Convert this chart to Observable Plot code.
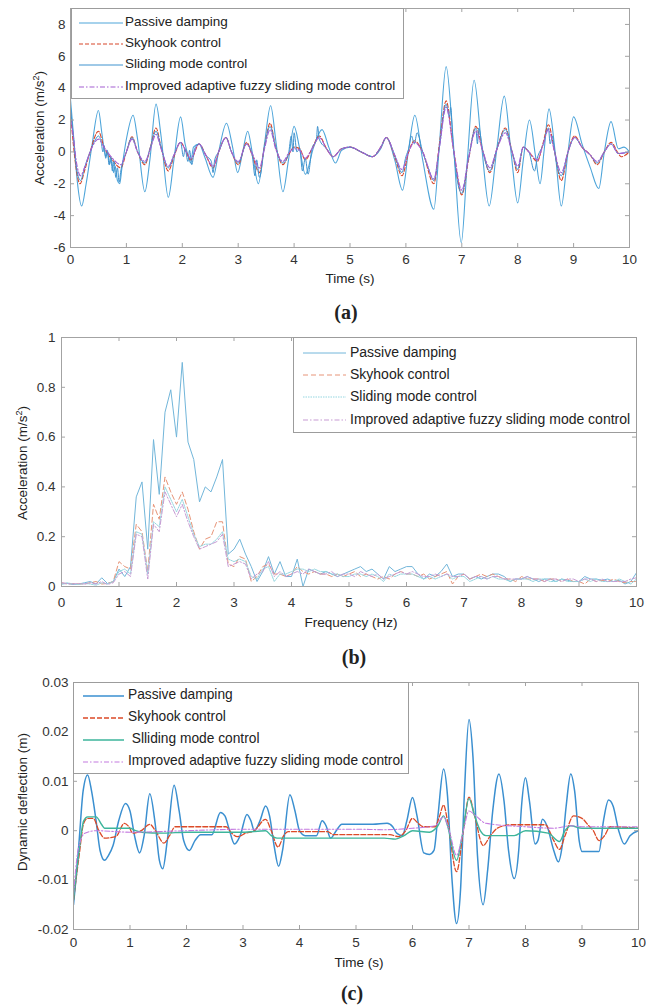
<!DOCTYPE html>
<html>
<head>
<meta charset="utf-8">
<script src="https://cdn.jsdelivr.net/npm/d3@7"></script>
<script src="https://cdn.jsdelivr.net/npm/@observablehq/plot@0.6"></script>
<style>
  body { margin: 0; background: #fff; }
  #page { position: relative; width: 646px; height: 1006px; overflow: hidden;
          font-family: "Liberation Sans", Arial, sans-serif; color: #222; }
  .panel { position: absolute; left: 0; }
  .legend { position: absolute; background: #fff; border: 1px solid #9c9c9c; box-sizing: border-box; }
  .legend .row { position: absolute; left: 0; height: 20px; white-space: pre; font-size: 12.5px; }
  .legend svg { position: absolute; top: 0; }
  .legend span { position: absolute; top: 1px; white-space: pre; }
  .xlab { position: absolute; font-size: 13.5px; transform: translate(-50%, -50%); white-space: nowrap; }
  .ylab { position: absolute; font-size: 13.5px; transform: translate(-50%, -50%) rotate(-90deg); white-space: nowrap; }
  .tag { position: absolute; font-family: "Liberation Serif", "Times New Roman", serif; font-weight: bold;
         font-size: 20px; transform: translate(-50%, -50%); }
</style>
</head>
<body>
<div id="page"></div>
<script>
// ---------- (a) body acceleration in the time domain: [time s, acceleration m/s^2] ----------
const passiveAccel = [[0,3.3],[0.05,1.2],[0.12,-1.8],[0.2,-3.4],[0.28,-2.0],[0.38,0.3],[0.5,2.6],[0.56,1.2],[0.6,0.2],[0.63,-0.3],[0.66,0.1],[0.7,-0.8],[0.73,-0.4],[0.77,-1.3],[0.8,-0.9],[0.84,-1.8],[0.88,-2.0],[0.92,-1.0],[1.0,0.8],[1.12,2.3],[1.2,0.8],[1.33,-2.5],[1.42,-0.5],[1.53,3.0],[1.62,1.0],[1.75,-2.85],[1.85,-0.5],[1.97,2.2],[2.05,0.5],[2.1,-0.2],[2.15,-0.7],[2.2,0.3],[2.3,0.5],[2.4,-0.3],[2.55,-1.6],[2.65,0.0],[2.79,1.8],[2.9,0.3],[2.99,-1.3],[3.08,0.0],[3.17,1.3],[3.25,0.0],[3.36,-2.0],[3.47,0.5],[3.58,2.9],[3.68,0.5],[3.8,-2.5],[3.9,-0.5],[4.0,1.6],[4.1,0.2],[4.2,-1.4],[4.35,0.3],[4.5,1.4],[4.62,0.3],[4.74,-0.7],[4.85,0.1],[5.0,0.3],[5.2,0.0],[5.4,-0.3],[5.55,0.2],[5.65,0.9],[5.8,-0.5],[5.94,-2.4],[6.05,0.2],[6.16,2.3],[6.3,-0.5],[6.5,-3.6],[6.6,0.5],[6.72,5.35],[6.85,0.5],[6.99,-5.7],[7.1,-0.5],[7.22,4.5],[7.35,0.5],[7.49,-3.4],[7.62,0.0],[7.76,3.5],[7.88,0.0],[8.0,-3.2],[8.1,-0.5],[8.21,2.0],[8.32,-0.3],[8.4,-2.0],[8.47,0.0],[8.56,2.7],[8.67,0.0],[8.78,-3.4],[8.9,0.0],[9.0,2.2],[9.15,0.5],[9.3,-1.0],[9.45,-2.3],[9.55,0.0],[9.67,1.9],[9.8,0.2],[9.9,0.3],[10,0.0]];
const skyhookAccel = [[0,2.5],[0.05,0.5],[0.1,-1.0],[0.17,-2.0],[0.25,-1.2],[0.35,0.0],[0.5,1.3],[0.6,0.3],[0.75,-0.5],[0.9,-1.0],[1.0,0.0],[1.1,0.95],[1.2,0.0],[1.33,-0.8],[1.43,0.3],[1.53,1.5],[1.62,0.3],[1.75,-1.2],[1.85,-0.3],[1.97,0.6],[2.07,0.0],[2.15,-0.5],[2.3,0.5],[2.42,-0.2],[2.55,-1.0],[2.65,0.0],[2.78,0.9],[2.88,0.0],[3.0,-0.8],[3.15,0.6],[3.25,-0.2],[3.38,-1.3],[3.47,0.3],[3.57,1.8],[3.67,0.3],[3.8,-0.8],[3.9,-0.2],[4.0,0.3],[4.1,0.2],[4.2,-0.5],[4.32,0.2],[4.45,1.0],[4.58,0.2],[4.7,-0.3],[4.85,0.2],[5.0,0.3],[5.2,0.0],[5.4,-0.3],[5.55,0.3],[5.65,0.9],[5.8,-0.3],[5.93,-1.5],[6.05,0.0],[6.15,0.7],[6.3,0.0],[6.5,-2.0],[6.6,0.5],[6.72,3.2],[6.85,0.2],[7.0,-2.7],[7.12,-0.5],[7.25,1.6],[7.38,0.0],[7.5,-1.3],[7.63,0.2],[7.78,1.5],[7.9,0.0],[8.0,-1.3],[8.1,0.3],[8.2,0.0],[8.35,-0.6],[8.45,0.5],[8.55,1.7],[8.66,0.0],[8.78,-1.8],[8.9,0.0],[9.02,1.0],[9.15,0.3],[9.3,-0.2],[9.42,-0.8],[9.55,0.0],[9.67,0.6],[9.8,-0.1],[9.85,-0.3],[10,0.0]];
const slidingAccel = [[0,2.8],[0.05,1.0],[0.1,-0.8],[0.18,-1.8],[0.25,-1.0],[0.35,0.0],[0.45,0.8],[0.5,1.0],[0.55,0.6],[0.58,0.0],[0.6,0.4],[0.63,-0.4],[0.66,0.0],[0.69,-0.8],[0.72,-0.3],[0.75,-1.2],[0.78,-0.6],[0.81,-1.6],[0.84,-1.0],[0.87,-1.9],[0.9,-1.2],[1.0,0.0],[1.1,0.9],[1.2,0.0],[1.33,-0.7],[1.43,0.3],[1.53,1.3],[1.62,0.3],[1.75,-1.0],[1.85,-0.2],[1.97,0.6],[2.02,-0.3],[2.05,0.2],[2.1,-0.6],[2.13,0.1],[2.17,-0.8],[2.22,0.2],[2.3,0.5],[2.42,-0.2],[2.52,-0.6],[2.55,-1.3],[2.58,-0.5],[2.65,0.0],[2.78,0.9],[2.88,0.0],[3.0,-0.7],[3.15,0.5],[3.25,-0.2],[3.3,-1.5],[3.33,-0.5],[3.38,-1.6],[3.47,0.3],[3.57,1.6],[3.67,0.3],[3.8,-0.7],[3.9,-0.1],[3.95,1.0],[3.98,0.0],[4.0,1.2],[4.05,0.0],[4.1,0.2],[4.15,-1.2],[4.2,-0.4],[4.25,-1.4],[4.32,0.2],[4.4,0.8],[4.42,1.6],[4.45,0.8],[4.58,0.2],[4.7,-0.3],[4.85,0.2],[5.0,0.3],[5.2,0.0],[5.4,-0.3],[5.55,0.3],[5.65,0.9],[5.8,-0.2],[5.93,-1.3],[6.0,-0.3],[6.05,0.2],[6.1,1.0],[6.15,0.5],[6.2,1.2],[6.3,0.0],[6.4,-1.0],[6.5,-1.8],[6.6,0.3],[6.72,3.0],[6.78,2.2],[6.8,2.8],[6.85,0.2],[7.0,-2.6],[7.12,-0.4],[7.25,1.5],[7.28,0.5],[7.3,1.5],[7.38,0.0],[7.5,-1.2],[7.63,0.2],[7.78,1.4],[7.9,0.0],[8.0,-1.1],[8.1,0.3],[8.2,0.0],[8.3,-1.2],[8.35,-0.4],[8.45,0.4],[8.55,1.5],[8.58,0.5],[8.62,1.0],[8.66,0.0],[8.78,-1.5],[8.9,0.0],[9.02,0.9],[9.15,0.3],[9.3,-0.2],[9.42,-0.7],[9.55,0.0],[9.67,0.5],[9.8,-0.1],[10,0.0]];
const improvedAccel = [[0,2.0],[0.05,1.0],[0.1,-0.5],[0.18,-1.5],[0.25,-1.0],[0.35,0.0],[0.5,0.8],[0.6,0.3],[0.75,-0.4],[0.9,-0.8],[1.0,0.0],[1.1,0.8],[1.2,0.0],[1.33,-0.6],[1.43,0.2],[1.53,1.1],[1.62,0.2],[1.75,-0.9],[1.85,-0.2],[1.97,0.6],[2.07,0.0],[2.15,-0.4],[2.3,0.5],[2.42,-0.2],[2.55,-0.9],[2.65,0.0],[2.78,0.9],[2.88,0.0],[3.0,-0.6],[3.15,0.5],[3.25,-0.1],[3.38,-1.0],[3.47,0.2],[3.57,1.4],[3.67,0.2],[3.8,-0.6],[3.9,-0.1],[4.0,0.2],[4.1,0.1],[4.2,-0.4],[4.32,0.2],[4.45,0.9],[4.58,0.2],[4.7,-0.3],[4.85,0.2],[5.0,0.3],[5.2,0.0],[5.4,-0.3],[5.55,0.3],[5.65,0.9],[5.8,-0.2],[5.93,-1.1],[6.05,0.0],[6.15,0.6],[6.3,0.0],[6.5,-1.7],[6.6,0.3],[6.72,2.8],[6.85,0.2],[7.0,-2.4],[7.12,-0.4],[7.25,1.3],[7.38,0.0],[7.5,-1.0],[7.63,0.2],[7.78,1.2],[7.9,0.0],[8.0,-0.9],[8.1,0.3],[8.2,0.0],[8.35,-0.5],[8.45,0.4],[8.55,1.4],[8.66,0.0],[8.78,-1.3],[8.9,0.0],[9.02,0.9],[9.15,0.3],[9.3,-0.2],[9.42,-0.6],[9.55,0.0],[9.67,0.5],[9.8,-0.1],[10,0.0]];

// ---------- (b) acceleration spectrum, sampled every 0.1 Hz from 0 to 10 Hz ----------
const freqHz = d3.range(101).map(i => i / 10);
const passiveSpec = [0.01,0.012,0.008,0.01,0.015,0.02,0.01,0.035,0.012,0.02,
  0.07,0.04,0.08,0.36,0.42,0.15,0.59,0.37,0.70,0.79,
  0.60,0.90,0.58,0.51,0.34,0.40,0.38,0.44,0.51,0.13,
  0.15,0.19,0.13,0.08,0.02,0.06,0.12,0.05,0.10,0.04,
  0.04,0.11,0.0,0.07,0.06,0.05,0.06,0.05,0.04,0.05,
  0.06,0.07,0.08,0.06,0.07,0.05,0.03,0.08,0.06,0.07,
  0.08,0.08,0.05,0.03,0.05,0.04,0.06,0.09,0.04,0.05,
  0.05,0.03,0.04,0.03,0.04,0.05,0.05,0.04,0.02,0.03,
  0.03,0.04,0.03,0.02,0.03,0.03,0.02,0.03,0.025,0.02,
  0.02,0.04,0.03,0.03,0.025,0.03,0.02,0.025,0.01,0.02,0.055];
const skyhookSpec = [0.015,0.01,0.012,0.01,0.01,0.015,0.02,0.01,0.012,0.02,
  0.10,0.08,0.07,0.25,0.22,0.06,0.33,0.27,0.44,0.38,
  0.33,0.38,0.31,0.22,0.15,0.19,0.20,0.26,0.26,0.09,
  0.08,0.12,0.11,0.02,0.04,0.08,0.09,0.05,0.05,0.04,
  0.05,0.08,0.06,0.05,0.06,0.05,0.05,0.04,0.05,0.04,
  0.05,0.06,0.04,0.05,0.04,0.03,0.04,0.03,0.05,0.06,
  0.05,0.05,0.04,0.05,0.03,0.04,0.05,0.06,0.01,0.04,
  0.05,0.03,0.04,0.05,0.04,0.05,0.04,0.03,0.03,0.02,
  0.04,0.03,0.03,0.03,0.02,0.03,0.03,0.02,0.03,0.02,
  0.02,0.01,0.03,0.02,0.025,0.02,0.03,0.02,0.015,0.02,0.02];
const slidingSpec = [0.01,0.015,0.01,0.008,0.012,0.01,0.005,0.015,0.01,0.02,
  0.06,0.07,0.05,0.22,0.21,0.05,0.26,0.24,0.40,0.35,
  0.30,0.35,0.28,0.21,0.16,0.17,0.17,0.19,0.22,0.11,
  0.10,0.11,0.10,0.04,0.03,0.07,0.08,0.02,0.05,0.05,
  0.06,0.07,0.07,0.06,0.07,0.06,0.06,0.05,0.05,0.04,
  0.04,0.05,0.05,0.04,0.05,0.04,0.02,0.05,0.04,0.05,
  0.05,0.05,0.04,0.03,0.04,0.03,0.04,0.05,0.03,0.04,
  0.04,0.02,0.03,0.04,0.03,0.04,0.03,0.03,0.02,0.03,
  0.03,0.03,0.02,0.03,0.03,0.02,0.02,0.03,0.02,0.02,
  0.02,0.03,0.02,0.03,0.02,0.02,0.02,0.03,0.02,0.01,0.03];
const improvedSpec = [0.015,0.012,0.01,0.012,0.01,0.015,0.01,0.02,0.008,0.015,
  0.05,0.06,0.04,0.21,0.20,0.03,0.25,0.22,0.38,0.33,
  0.28,0.33,0.26,0.20,0.15,0.16,0.17,0.18,0.21,0.08,
  0.09,0.10,0.09,0.03,0.05,0.06,0.10,0.04,0.06,0.04,
  0.05,0.06,0.05,0.07,0.06,0.05,0.05,0.06,0.04,0.05,
  0.05,0.04,0.06,0.05,0.04,0.05,0.03,0.04,0.05,0.06,
  0.05,0.06,0.05,0.04,0.04,0.05,0.04,0.05,0.04,0.04,
  0.05,0.03,0.04,0.04,0.03,0.04,0.04,0.03,0.03,0.03,
  0.03,0.04,0.03,0.03,0.02,0.03,0.03,0.02,0.03,0.03,
  0.02,0.03,0.03,0.02,0.03,0.02,0.02,0.02,0.02,0.03,0.035];

// ---------- (c) suspension dynamic deflection: [time s, deflection m] ----------
const passiveDefl = [[0,-0.015],[0.05,-0.009],[0.1,-0.002],[0.17,0.008],[0.25,0.0113],[0.32,0.008],[0.4,0.002],[0.47,-0.004],[0.55,-0.006],[0.62,-0.005],[0.7,-0.003],[0.8,0.002],[0.92,0.0055],[1.0,0.004],[1.08,-0.001],[1.17,-0.0045],[1.25,-0.001],[1.35,0.0075],[1.45,0.001],[1.52,-0.006],[1.58,-0.0077],[1.66,-0.002],[1.78,0.0092],[1.87,0.004],[1.95,-0.002],[2.05,-0.004],[2.15,-0.002],[2.25,-0.0008],[2.45,-0.0008],[2.6,0.0037],[2.68,0.003],[2.75,0.0005],[2.85,-0.0027],[2.95,-0.001],[3.07,0.0033],[3.14,0.002],[3.2,0.0],[3.3,0.002],[3.4,0.005],[3.47,0.003],[3.55,-0.003],[3.63,-0.0072],[3.7,-0.004],[3.83,0.0073],[3.92,0.004],[4.0,0.0],[4.1,-0.001],[4.3,-0.001],[4.4,0.002],[4.47,0.001],[4.55,-0.0015],[4.65,0.0],[4.75,0.0013],[5.0,0.0013],[5.3,0.0013],[5.55,0.0015],[5.65,0.0008],[5.72,-0.0005],[5.82,-0.001],[5.9,0.002],[6.0,0.0067],[6.08,0.003],[6.2,-0.0045],[6.3,-0.0048],[6.38,-0.004],[6.45,0.003],[6.55,0.0125],[6.62,0.007],[6.7,-0.01],[6.78,-0.0188],[6.85,-0.012],[6.92,0.008],[7.0,0.0225],[7.07,0.015],[7.15,-0.005],[7.25,-0.015],[7.33,-0.008],[7.42,0.004],[7.53,0.0115],[7.62,0.006],[7.7,-0.004],[7.8,-0.0097],[7.88,-0.004],[7.93,0.005],[8.0,0.0107],[8.07,0.006],[8.17,-0.0027],[8.22,-0.002],[8.3,0.0023],[8.38,0.001],[8.5,-0.004],[8.58,-0.0063],[8.65,-0.003],[8.72,0.005],[8.8,0.0115],[8.87,0.008],[8.95,-0.002],[9.0,-0.0042],[9.3,-0.0042],[9.38,0.002],[9.47,0.0062],[9.55,0.005],[9.65,0.0],[9.75,-0.0027],[9.85,-0.001],[10,0.0]];
const skyhookDefl = [[0,-0.014],[0.1,-0.005],[0.18,0.0015],[0.25,0.0025],[0.35,0.0025],[0.45,0.0],[0.55,-0.0015],[0.75,-0.0012],[0.9,0.0015],[0.98,0.0008],[1.05,-0.0005],[1.2,0.0],[1.35,0.0013],[1.45,0.0],[1.6,-0.0025],[1.7,-0.001],[1.8,0.0008],[2.0,0.0008],[2.5,0.0008],[2.7,0.0008],[2.8,-0.0005],[2.9,-0.0012],[3.05,-0.0005],[3.2,0.0],[3.4,0.0023],[3.5,0.0],[3.62,-0.0033],[3.72,-0.001],[3.8,-0.0002],[4.5,-0.0002],[4.6,-0.0008],[5.6,-0.0008],[5.75,-0.0012],[5.88,0.0],[6.0,0.0025],[6.1,0.0015],[6.2,0.0008],[6.4,0.0008],[6.48,0.003],[6.55,0.0052],[6.62,0.002],[6.78,-0.0083],[6.9,0.0],[7.0,0.0068],[7.1,0.003],[7.25,-0.003],[7.38,-0.001],[7.5,0.0005],[7.75,0.0012],[8.1,0.0012],[8.35,0.0012],[8.5,-0.002],[8.6,-0.0038],[8.7,-0.001],[8.85,0.003],[9.0,0.0025],[9.12,0.001],[9.2,0.0],[9.3,-0.002],[9.4,-0.001],[9.5,0.0008],[10,0.0005]];
const slidingDefl = [[0,-0.014],[0.1,-0.004],[0.18,0.002],[0.25,0.0028],[0.4,0.0028],[0.5,0.0012],[0.55,0.0005],[1.0,0.0005],[1.1,0.0],[1.2,-0.0003],[1.6,-0.0005],[2.0,-0.0003],[3.0,-0.0003],[3.4,0.0],[3.5,-0.001],[3.6,-0.0015],[4.0,-0.0015],[5.5,-0.0015],[5.7,-0.0017],[5.85,-0.001],[6.0,0.0],[6.3,-0.0003],[6.45,0.001],[6.55,0.003],[6.62,0.001],[6.78,-0.006],[6.88,-0.001],[7.0,0.0065],[7.1,0.003],[7.2,0.0],[7.3,-0.001],[7.8,-0.001],[8.0,0.0],[8.4,-0.0005],[8.6,-0.0022],[8.7,0.0],[8.8,0.001],[9.0,0.0005],[10,0.0005]];
const improvedDefl = [[0,-0.013],[0.08,-0.004],[0.2,-0.0005],[0.4,0.0],[1.0,-0.0003],[2.0,0.0],[3.0,0.0003],[4.0,0.0003],[5.0,0.0003],[5.5,0.0002],[6.0,0.0005],[6.4,0.001],[6.55,0.0028],[6.65,0.0],[6.78,-0.005],[6.9,0.0],[7.0,0.004],[7.12,0.003],[7.3,0.0015],[8.0,0.0008],[8.5,0.0005],[8.8,0.001],[9.0,0.0008],[10,0.0008]];

// ---------- tick values ----------
const timeTicks = [0,1,2,3,4,5,6,7,8,9,10];
const accelTicks = [-6,-4,-2,0,2,4,6,8];
const specTicks = [0,0.2,0.4,0.6,0.8,1];
const deflTicks = [-0.02,-0.01,0,0.01,0.02,0.03];

const legendNames = ["Passive damping", "Skyhook control", "Sliding mode control", "Improved adaptive fuzzy sliding mode control"];

const page = document.getElementById("page");
const asPairs = (xs, ys) => xs.map((x, i) => [x, ys[i]]);

function panel(cfg) {
  const W = 646;
  const plotW = W - cfg.mLeft - cfg.mRight;
  const plotH = cfg.height - cfg.mTop - cfg.mBottom;
  const grey = "#a3a3a3";
  const marks = [
    Plot.axisX(cfg.xTicks, {tickSize: 0, tickPadding: cfg.xPad, tickFormat: d => String(d), label: null, fill: "#333"}),
    Plot.axisY(cfg.yTicks, {tickSize: 0, tickPadding: cfg.yPad, tickFormat: d => String(d), label: null, fill: "#333"}),
    ...cfg.series.map(s => Plot.line(s.data, {
      x: d => d[0], y: d => d[1], stroke: s.color, strokeWidth: s.width,
      strokeDasharray: s.dash, curve: cfg.curve, clip: true
    })),
    Plot.tickX(cfg.xTicks, {x: d => d, insetTop: plotH - 4, stroke: grey}),
    Plot.tickX(cfg.xTicks, {x: d => d, insetBottom: plotH - 4, stroke: grey}),
    Plot.tickY(cfg.yTicks, {y: d => d, insetRight: plotW - 4, stroke: grey}),
    Plot.tickY(cfg.yTicks, {y: d => d, insetLeft: plotW - 4, stroke: grey}),
    Plot.frame({stroke: grey})
  ];
  const svg = Plot.plot({
    width: W, height: cfg.height,
    marginLeft: cfg.mLeft, marginRight: cfg.mRight, marginTop: cfg.mTop, marginBottom: cfg.mBottom,
    x: {domain: cfg.xDomain}, y: {domain: cfg.yDomain},
    style: {fontFamily: "'Liberation Sans', Arial, sans-serif", fontSize: "13.5px", background: "transparent", overflow: "visible"},
    marks
  });
  svg.classList.add("panel");
  svg.style.top = cfg.top + "px";
  page.appendChild(svg);

  // legend box
  const lg = cfg.legend;
  const box = document.createElement("div");
  box.className = "legend";
  Object.assign(box.style, {left: lg.left + "px", top: lg.top + "px", width: lg.width + "px", height: lg.height + "px"});
  cfg.series.forEach((s, i) => {
    const row = document.createElement("div");
    row.className = "row";
    row.style.top = (lg.rows[i] - lg.top - 10) + "px";
    const ns = "http://www.w3.org/2000/svg";
    const sv = document.createElementNS(ns, "svg");
    sv.setAttribute("width", lg.lineX2 - lg.lineX1 + 2);
    sv.setAttribute("height", 20);
    sv.style.left = (lg.lineX1 - lg.left - 1) + "px";
    const ln = document.createElementNS(ns, "line");
    ln.setAttribute("x1", 1); ln.setAttribute("x2", lg.lineX2 - lg.lineX1 + 1);
    ln.setAttribute("y1", 10); ln.setAttribute("y2", 10);
    ln.setAttribute("stroke", s.color);
    ln.setAttribute("stroke-width", s.width);
    if (s.dash) ln.setAttribute("stroke-dasharray", s.dash);
    sv.appendChild(ln);
    row.appendChild(sv);
    const tx = document.createElement("span");
    tx.textContent = lg.names ? lg.names[i] : legendNames[i];
    tx.style.left = (lg.textX - lg.left - 1) + "px";
    tx.style.fontSize = lg.fontSize + "px";
    row.appendChild(tx);
    box.appendChild(row);
  });
  page.appendChild(box);

  // axis titles and panel tag
  const xl = document.createElement("div");
  xl.className = "xlab"; xl.textContent = cfg.xLabel;
  Object.assign(xl.style, {left: cfg.xLabelPos[0] + "px", top: cfg.xLabelPos[1] + "px"});
  page.appendChild(xl);
  const yl = document.createElement("div");
  yl.className = "ylab"; yl.innerHTML = cfg.yLabel;
  Object.assign(yl.style, {left: cfg.yLabelPos[0] + "px", top: cfg.yLabelPos[1] + "px"});
  page.appendChild(yl);
  const tg = document.createElement("div");
  tg.className = "tag"; tg.textContent = cfg.tag;
  Object.assign(tg.style, {left: cfg.tagPos[0] + "px", top: cfg.tagPos[1] + "px"});
  page.appendChild(tg);
}

// (a)
panel({
  top: 0, height: 272, mLeft: 70, mRight: 17, mTop: 8, mBottom: 25, xPad: 7, yPad: 5, curve: "monotone-x",
  xDomain: [0, 10], yDomain: [-6, 9], xTicks: timeTicks, yTicks: accelTicks,
  series: [
    {data: passiveAccel, color: "#4ea5da", width: 1.1},
    {data: skyhookAccel, color: "#d8472b", width: 1.1, dash: "4,2"},
    {data: slidingAccel, color: "#3f93cf", width: 1.0},
    {data: improvedAccel, color: "#a45fd2", width: 1.1, dash: "5,2,1.5,2"}
  ],
  legend: {left: 71, top: 8, width: 333, height: 91, rows: [22, 43, 64, 86], lineX1: 78, lineX2: 122, textX: 125, fontSize: 13.5},
  xLabel: "Time (s)", xLabelPos: [350, 278],
  yLabel: "Acceleration (m/s<sup style='font-size:9px'>2</sup>)", yLabelPos: [39, 128],
  tag: "(a)", tagPos: [346, 312]
});

// (b)
panel({
  top: 320, height: 291, mLeft: 61, mRight: 10, mTop: 17, mBottom: 25, xPad: 11, yPad: 6, curve: "linear",
  xDomain: [0, 10], yDomain: [0, 1], xTicks: timeTicks, yTicks: specTicks,
  series: [
    {data: asPairs(freqHz, passiveSpec), color: "#72b6da", width: 1},
    {data: asPairs(freqHz, skyhookSpec), color: "#e79478", width: 1, dash: "5,3"},
    {data: asPairs(freqHz, slidingSpec), color: "#95d6e0", width: 1, dash: "1.5,1"},
    {data: asPairs(freqHz, improvedSpec), color: "#c79bd3", width: 1, dash: "5,2,1.5,2"}
  ],
  legend: {left: 293, top: 337, width: 344, height: 96, rows: [352, 374, 396, 419], lineX1: 302, lineX2: 345, textX: 350, fontSize: 14},
  xLabel: "Frequency (Hz)", xLabelPos: [351, 622],
  yLabel: "Acceleration (m/s<sup style='font-size:9px'>2</sup>)", yLabelPos: [22, 463],
  tag: "(b)", tagPos: [354, 657]
});

// (c)
panel({
  top: 660, height: 294, mLeft: 73, mRight: 8, mTop: 22, mBottom: 25, xPad: 8, yPad: 5, curve: "monotone-x",
  xDomain: [0, 10], yDomain: [-0.02, 0.03], xTicks: timeTicks, yTicks: deflTicks,
  series: [
    {data: passiveDefl, color: "#3a8fd0", width: 1.5},
    {data: skyhookDefl, color: "#dc4a27", width: 1.3, dash: "5,2"},
    {data: slidingDefl, color: "#3db59b", width: 1.4},
    {data: improvedDefl, color: "#c47ae0", width: 1.1, dash: "5,2,1.5,2"}
  ],
  legend: {left: 73, top: 682, width: 336, height: 92, rows: [695, 717, 739, 761], lineX1: 82, lineX2: 123, textX: 128, fontSize: 13.75,
           names: ["Passive damping", "Skyhook control", " Slliding mode control", "Improved adaptive fuzzy sliding mode control"]},
  xLabel: "Time (s)", xLabelPos: [359, 962],
  yLabel: "Dynamic deflection (m)", yLabelPos: [22, 802],
  tag: "(c)", tagPos: [352, 993]
});
</script>
</body>
</html>
